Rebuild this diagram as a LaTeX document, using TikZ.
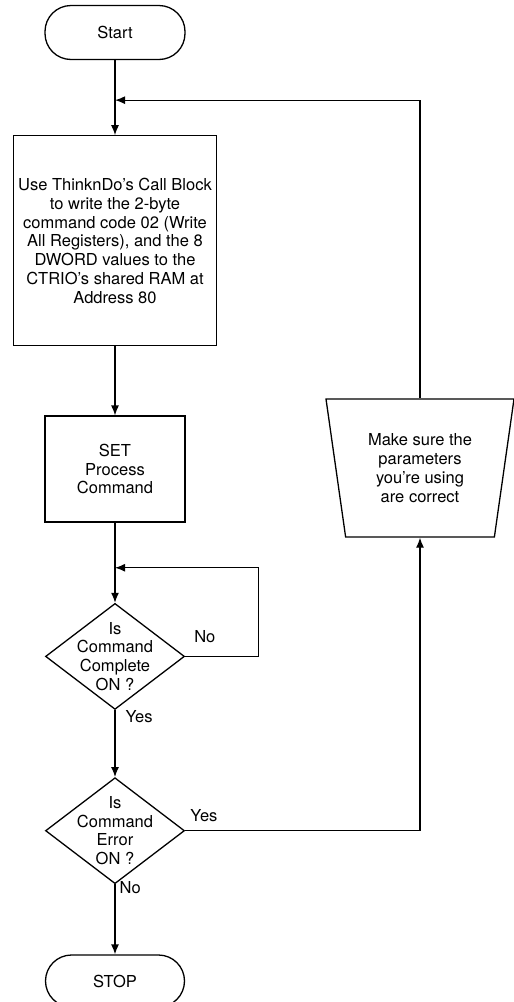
\documentclass[tikz,border=0pt]{standalone}
\usepackage{fontspec}
\setmainfont{TeX Gyre Heros}
\usetikzlibrary{shapes.geometric,arrows.meta,positioning,calc}

\begin{document}
\begin{tikzpicture}[
    x=1pt, y=1pt,
    font=\fontsize{16.5}{18.8}\selectfont,
    terminal/.style={rectangle, draw, rounded corners=26pt, minimum width=140pt, minimum height=54pt, line width=1.3pt},
    block/.style={rectangle, draw, align=center, inner sep=2pt, line width=1.3pt},
    decision/.style={diamond, draw, minimum width=139pt, minimum height=106pt, inner sep=0pt, line width=1.3pt},
    trap/.style={trapezium, draw, trapezium stretches body, trapezium angle=75.4, shape border rotate=180, minimum width=188pt, minimum height=138pt, align=center, line width=1.3pt},
    line/.style={draw, line width=1.3pt, -{Latex[length=10pt,width=8pt]}},
    tag/.style={inner sep=2pt}
]
\useasboundingbox (0,0) rectangle (514,-1002);

% Main sequence
\node [terminal] (start) at (115,-32.5) {Start};
\node [block, minimum width=203pt, minimum height=210pt, below=75pt of start] (task) {Use ThinknDo’s Call Block\\to write the 2-byte\\command code 02 (Write\\All Registers), and the 8\\DWORD values to the\\CTRIO’s shared RAM at\\Address 80};
\node [block, minimum width=140pt, minimum height=106pt, below=69pt of task] (setcmd) {SET\\Process\\Command};
\node [decision, below=80pt of setcmd, label={[align=center]center:Is\\Command\\Complete\\ON ?}] (done) {};
\node [decision, below=67pt of done, label={[align=center]center:Is\\Command\\Error\\ON ?}] (err) {};
\node [terminal, minimum width=139pt, minimum height=52pt, below=70pt of err] (stop) {STOP};

% Error branch
\node [trap] (check) at (420,-468) {Make sure the\\parameters\\you’re using\\are correct};

% Junction points
\coordinate [below=40pt of start] (merge);
\coordinate [below=45pt of setcmd] (retry);
\coordinate [right=73pt of done] (loopx);

% Connections
\path [line] (start) -- (task);
\path [line] (task) -- (setcmd);
\path [line] (setcmd) -- (done);
\path [line] (done.east) -- node [tag, above=11pt, pos=0.27] {No} (loopx) |- (retry);
\path [line] (done) -- node [tag, right=8pt, pos=0.1] {Yes} (err);
\path [line] (err.east) -- node [tag, above=6pt, pos=0.08] {Yes} (err.east -| check.south) -- (check.south);
\path [line] (err) -- node [tag, right=2pt, pos=0.05] {No} (stop);
\path [line] (check.north) |- (merge);
\end{tikzpicture}
\end{document}
